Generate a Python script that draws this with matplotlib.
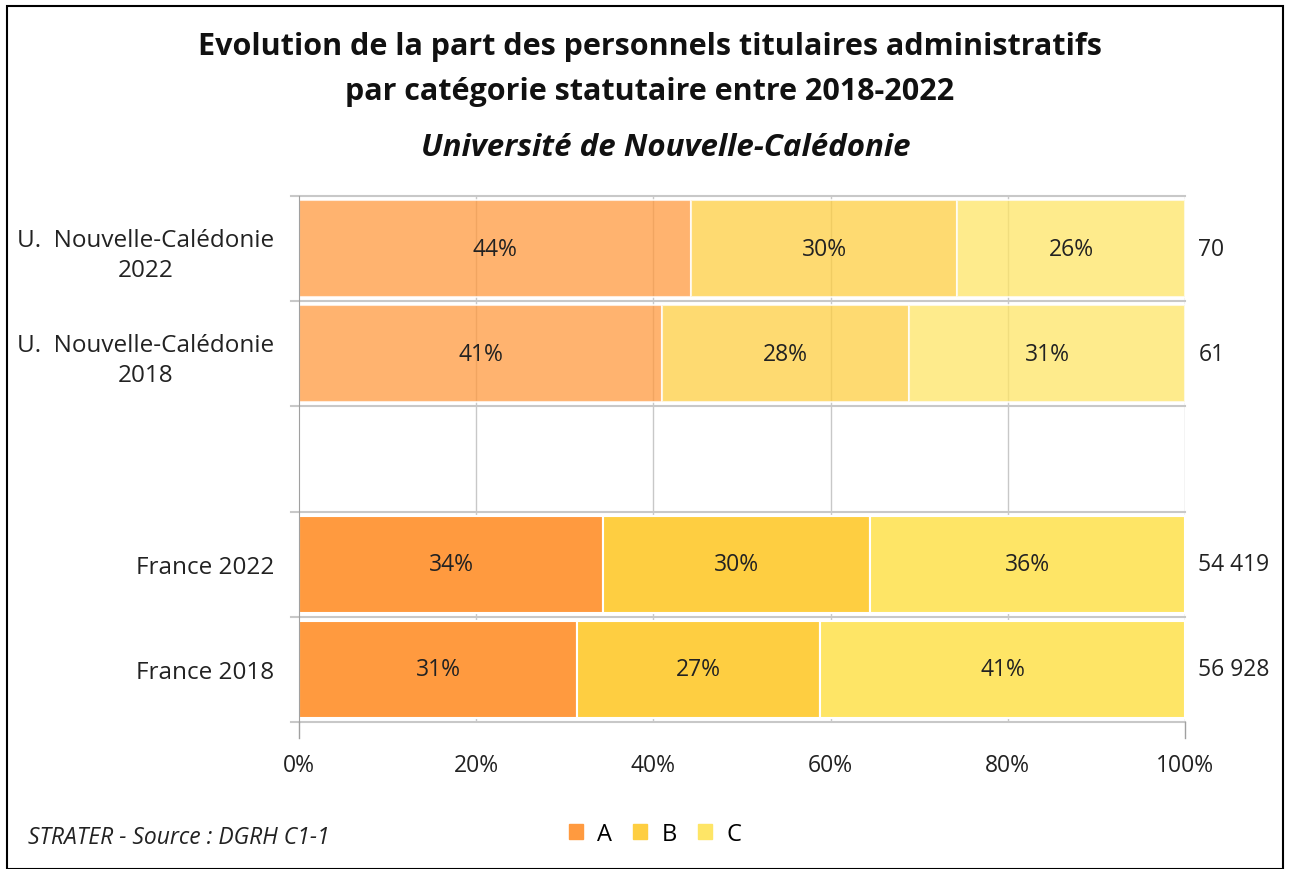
import numpy as np
import matplotlib.pyplot as plt
from matplotlib.patches import Rectangle

plt.rcParams['font.family'] = ['Open Sans', 'DejaVu Sans']

# Data
rows = ['U.  Nouvelle-Calédonie\n2022', 'U.  Nouvelle-Calédonie\n2018', '', 'France 2022', 'France 2018']
part_a = [44.3, 41.0, 0, 34.3, 31.4]
part_b = [30.0, 27.9, 0, 30.1, 27.4]
part_c = [25.7, 31.1, 0, 35.6, 41.2]
effectifs = ['70', '61', '', '54 419', '56 928']
categories = ['A', 'B', 'C']
colors = ['#FF9A3F', '#FECE41', '#FEE566']
alphas = [0.75, 0.75, 1, 1, 1]

fig = plt.figure(figsize=(12.91, 8.7), dpi=100)
ax = fig.add_axes([299 / 1291, 1 - 723 / 870, 886 / 1291, 526 / 870])

y = np.arange(len(rows))
series = [part_a, part_b, part_c]
for i in y:
    if rows[i] == '':
        continue
    left = 0
    for s, col in zip(series, colors):
        v = s[i]
        ax.barh(i, v, left=left, height=0.92, color=col, alpha=alphas[i],
                edgecolor='white', linewidth=1.5, zorder=2)
        ax.text(left + v / 2, i, f'{v:.0f}%', ha='center', va='center',
                fontsize=16.5, color='#222222', zorder=3)
        left += v
    ax.text(101.5, i, effectifs[i], ha='left', va='center', fontsize=16.5, color='#222222')

ax.set_xlim(0, 100)
ax.set_ylim(len(rows) - 0.5, -0.5)
ax.set_xticks([0, 20, 40, 60, 80, 100])
ax.set_xticklabels(['0%', '20%', '40%', '60%', '80%', '100%'], fontsize=16.5, color='#222222')
ax.set_yticks(y)
ax.set_yticklabels(rows, fontsize=17.5, color='#222222', multialignment='center', linespacing=1.35)
ax.tick_params(axis='y', length=0, pad=18)
ax.tick_params(axis='x', length=0, pad=22)

# grid lines: vertical at ticks, horizontal between rows
for xv in [20, 40, 60, 80, 100]:
    ax.axvline(xv, color='#c8c8c8', linewidth=1, zorder=1)
for yb in np.arange(-0.5, len(rows), 1):
    ax.plot([-0.9, 100], [yb, yb], color='#c8c8c8', linewidth=1.5, zorder=1, clip_on=False)
for sp in ['top', 'right', 'bottom']:
    ax.spines[sp].set_visible(False)
ax.spines['left'].set_color('#a0a0a0')
ax.plot([0, 0], [len(rows) - 0.5, len(rows) - 0.35], color='#a0a0a0', linewidth=1, clip_on=False)
ax.plot([100, 100], [len(rows) - 0.5, len(rows) - 0.35], color='#a0a0a0', linewidth=1, clip_on=False)

# titles
fig.text(650 / 1291, 1 - 47 / 870, 'Evolution de la part des personnels titulaires administratifs',
         ha='center', va='center', fontsize=22, fontweight='bold', color='#111111')
fig.text(650 / 1291, 1 - 92 / 870, 'par catégorie statutaire entre 2018-2022',
         ha='center', va='center', fontsize=22, fontweight='bold', color='#111111')
fig.text(666 / 1291, 1 - 148 / 870, 'Université de Nouvelle-Calédonie',
         ha='center', va='center', fontsize=22.5, fontweight='bold', style='italic', color='#111111')

# footer
fig.text(28 / 1291, 1 - 838 / 870, 'STRATER - Source : DGRH C1-1', ha='left', va='center',
         fontsize=16.5, style='italic', color='#222222')
handles = [Rectangle((0, 0), 1, 1, color=c) for c in colors]
fig.legend(handles, categories, loc='center', bbox_to_anchor=(655 / 1291, 1 - 835 / 870),
           ncol=3, frameon=False, fontsize=17, handlelength=0.6, handleheight=0.6,
           handletextpad=0.6, columnspacing=0.9)

# outer frame
fig.patches.append(Rectangle((7 / 1291, 0), 1276 / 1291, 1 - 7 / 870, transform=fig.transFigure,
                             fill=False, edgecolor='black', linewidth=1.5))

fig.savefig('out.png', dpi=100)
